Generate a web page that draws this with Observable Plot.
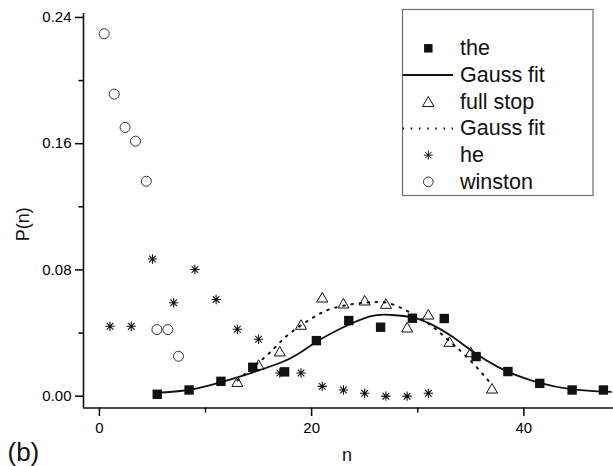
<!DOCTYPE html>
<html><head><meta charset="utf-8">
<script src="https://cdn.jsdelivr.net/npm/d3@7"></script>
<script src="https://cdn.jsdelivr.net/npm/@observablehq/plot@0.6"></script>
<style>
body{margin:0;background:#fff;}
#chart{position:relative;width:613px;height:466px;}
</style></head><body><div id="chart"></div>
<script>
// ---- data ----
const theN = [5.45, 8.45, 11.45, 14.45, 17.45, 20.45, 23.5, 26.5, 29.5, 32.5, 35.5, 38.5, 41.5, 44.55, 47.5];
const theP = [0.0012, 0.0039, 0.0094, 0.0183, 0.0154, 0.0352, 0.0479, 0.0437, 0.0494, 0.0492, 0.0251, 0.0156, 0.0081, 0.0039, 0.0039];

const stopN = [13, 15, 17, 19, 21, 23, 25, 27, 29, 31, 33, 35, 37];
const stopP = [0.0092, 0.0200, 0.0285, 0.0454, 0.0627, 0.0589, 0.0608, 0.0587, 0.0437, 0.0519, 0.0346, 0.0280, 0.0050];

const heN = [1, 3, 5, 7, 9, 11, 13, 15, 17, 19, 21, 23, 25, 27, 29, 31];
const heP = [0.0443, 0.0443, 0.0869, 0.0592, 0.0803, 0.0613, 0.0424, 0.0361, 0.0147, 0.0147, 0.0062, 0.0039, 0.0018, 0.0000, 0.0000, 0.0018];

const winN = [0.45, 1.4, 2.42, 3.4, 4.42, 5.42, 6.45, 7.45];
const winP = [0.2297, 0.1914, 0.1703, 0.1616, 0.1362, 0.0422, 0.0422, 0.0253];

// Gauss fit curves
const fitTheN = [5.4, 8.4, 11.4, 14.2, 17.0, 18.6, 20.5, 22.7, 25.5, 27.4, 29.5, 31.2, 33.1, 35.3, 37.5, 39.4, 41.3, 44.4, 48.2];
const fitTheP = [0.0022, 0.0039, 0.0088, 0.0145, 0.0210, 0.0262, 0.0346, 0.0427, 0.0505, 0.0515, 0.0500, 0.0458, 0.0384, 0.0278, 0.0187, 0.0130, 0.0088, 0.0045, 0.0027];

const fitStopN = [13, 15.8, 17.3, 18.8, 20.3, 21.9, 24.0, 25.7, 27.7, 30.3, 31.7, 33.1, 34.5, 35.9, 36.9];
const fitStopP = [0.0100, 0.0260, 0.0360, 0.0440, 0.0505, 0.0555, 0.0585, 0.0596, 0.0580, 0.0490, 0.0425, 0.0342, 0.0257, 0.0157, 0.0080];

const xTicks = [0, 20, 40];
const xMinor = [10, 30];
const yTicks = [0, 0.08, 0.16, 0.24];
const yMinor = [0.04, 0.12, 0.20];
const xDomain = [-1.5, 48.45];
const yDomain = [-0.0075, 0.2425];

const legendLabels = ["the", "Gauss fit", "full stop", "Gauss fit", "he", "winston"];
const legendKinds = ["square", "solid", "triangle", "dotted", "asterisk", "circle"];

// ---- tables ----
const zip = (xs, ys) => xs.map((x, i) => ({n: x, p: ys[i]}));
const the = zip(theN, theP), stop = zip(stopN, stopP), he = zip(heN, heP), win = zip(winN, winP);
const fitThe = zip(fitTheN, fitTheP), fitStop = zip(fitStopN, fitStopP);

// 8-armed asterisk symbol
const asterisk8 = {
  draw(ctx, size) {
    const r = Math.sqrt(size / Math.PI);
    const d = r * Math.SQRT1_2;
    ctx.moveTo(0, -r); ctx.lineTo(0, r);
    ctx.moveTo(-r, 0); ctx.lineTo(r, 0);
    ctx.moveTo(-d, -d); ctx.lineTo(d, d);
    ctx.moveTo(-d, d); ctx.lineTo(d, -d);
  }
};

const ink = "#111";
const font = "'Liberation Sans', Arial, sans-serif";

const chart = Plot.plot({
  width: 613, height: 466,
  marginLeft: 83, marginRight: 0, marginTop: 13, marginBottom: 58.5,
  x: {domain: xDomain},
  y: {domain: yDomain},
  style: {fontFamily: font, background: "white", color: "black", overflow: "visible"},
  marks: [
    Plot.ruleX([xDomain[0]], {stroke: ink, strokeWidth: 1.6}),
    Plot.ruleY([yDomain[0]], {stroke: ink, strokeWidth: 1.6}),
    Plot.axisY({ticks: yTicks, tickSize: 8, tickPadding: 4, tickFormat: d3.format(".2f"), fontSize: 15, label: null, strokeWidth: 1.5}),
    Plot.axisY({ticks: yMinor, tickSize: 4.5, tickFormat: () => "", label: null, strokeWidth: 1.5}),
    Plot.axisX({ticks: xTicks, tickSize: 8.5, tickPadding: 6, tickFormat: d3.format("d"), fontSize: 15, label: null, strokeWidth: 1.5}),
    Plot.axisX({ticks: xMinor, tickSize: 5, tickFormat: () => "", label: null, strokeWidth: 1.5}),
    Plot.line(fitThe, {x: "n", y: "p", curve: "natural", stroke: ink, strokeWidth: 1.8}),
    Plot.line(fitStop, {x: "n", y: "p", curve: "natural", stroke: ink, strokeWidth: 2, strokeDasharray: "1.6,6.6"}),
    Plot.dot(win, {x: "n", y: "p", r: 5, fill: "none", stroke: "#333", strokeWidth: 1}),
    Plot.dot(he, {x: "n", y: "p", symbol: asterisk8, r: 4.7, fill: "none", stroke: ink, strokeWidth: 1.1}),
    Plot.dot(stop, {x: "n", y: "p", symbol: "triangle", r: 4.1, dy: 1.6, fill: "none", stroke: ink, strokeWidth: 1}),
    Plot.dot(the, {x: "n", y: "p", symbol: "square", r: 5.3, fill: ink, stroke: "none"}),
    Plot.text(["P(n)"], {frameAnchor: "left", dx: -60, dy: 13.5, rotate: -90, fontSize: 18, fill: ink, textAnchor: "middle", lineAnchor: "middle"}),
    Plot.text(["n"], {frameAnchor: "bottom", dx: -1.5, dy: 53, fontSize: 18, fill: ink, textAnchor: "middle", lineAnchor: "bottom"}),
    Plot.text(["(b)"], {frameAnchor: "bottom-left", dx: -76, dy: 53, fontSize: 26, fill: ink, textAnchor: "start", lineAnchor: "bottom"})
  ]
});

document.getElementById("chart").appendChild(chart);

// ---- legend (inside plot, top right) ----
const svg = d3.select(chart);
const lg = svg.append("g").attr("font-family", font).attr("text-anchor", "start");
lg.append("rect").attr("x", 402.5).attr("y", 9.5).attr("width", 190.5).attr("height", 186)
  .attr("fill", "none").attr("stroke", "#6f6f6f").attr("stroke-width", 1.2);
legendLabels.forEach((label, i) => {
  const base = 55.3 + i * 26.7;
  const cy = base - 7;
  const kind = legendKinds[i];
  const g = lg.append("g");
  if (kind === "solid" || kind === "dotted") {
    const ln = g.append("line").attr("x1", 402.5).attr("x2", 453).attr("y1", cy).attr("y2", cy)
      .attr("stroke", ink).attr("stroke-width", kind === "solid" ? 1.8 : 2);
    if (kind === "dotted") ln.attr("stroke-dasharray", "1.6,6.6");
  } else {
    let type, r, fill, stroke;
    if (kind === "square") { type = d3.symbolSquare; r = 4.8; fill = ink; stroke = "none"; }
    if (kind === "triangle") { type = d3.symbolTriangle; r = 4.3; fill = "none"; stroke = ink; }
    if (kind === "asterisk") { type = asterisk8; r = 4.5; fill = "none"; stroke = ink; }
    if (kind === "circle") { type = d3.symbolCircle; r = 4.8; fill = "none"; stroke = "#333"; }
    g.append("path").attr("d", d3.symbol(type, r * r * Math.PI)())
      .attr("transform", `translate(428.3,${cy + (kind === "triangle" ? 1.5 : 0)})`)
      .attr("fill", fill).attr("stroke", stroke).attr("stroke-width", 1);
  }
  g.append("text").attr("x", 460).attr("y", base).attr("font-size", 21.5).attr("fill", ink)
    .attr("text-anchor", "start").text(label);
});
</script>
</body></html>
